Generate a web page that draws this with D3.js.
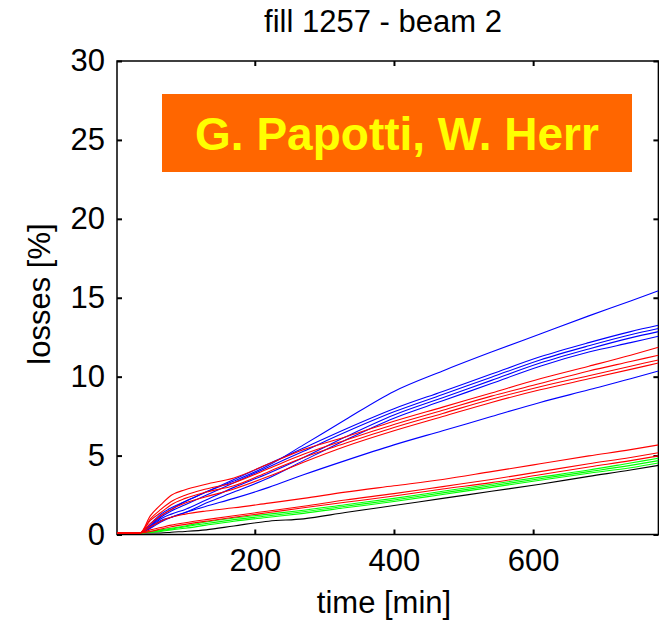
<!DOCTYPE html>
<html>
<head>
<meta charset="utf-8">
<script src="https://cdn.jsdelivr.net/npm/d3@7"></script>
<style>
  html, body { margin: 0; padding: 0; background: #fff; }
  svg { display: block; font-family: "Liberation Sans", Arial, sans-serif; }
  .tick-label { font-size: 31px; fill: #000; }
  .axis-title { font-size: 31px; fill: #000; }
  .loss-line { fill: none; stroke-width: 1.1; stroke-linejoin: round; }
</style>
</head>
<body>
<div id="chart"></div>
<script>
'use strict';

// ------------------------------------------
// Data: losses in % vs time in min
// ------------------------------------------
const TIMES = [0, 35, 50, 65, 80, 100, 130, 170, 220, 270, 330, 400, 470, 540, 610, 680, 740, 780];

const BLUE_LOSSES = [
  [0, 0, 0.6, 1.2, 1.6, 2.0, 2.6, 3.3, 4.3, 5.6, 7.2, 9.0, 10.3, 11.5, 12.65, 13.8, 14.75, 15.4],
  [0, 0, 0.5, 1.1, 1.5, 2.0, 2.6, 3.4, 4.4, 5.4, 6.6, 7.9, 9.0, 10.1, 11.2, 12.1, 12.8, 13.2],
  [0, 0, 0.45, 1.0, 1.4, 1.8, 2.4, 3.2, 4.2, 5.2, 6.4, 7.7, 8.8, 9.9, 11.0, 11.9, 12.6, 13.0],
  [0, 0, 0.4, 0.9, 1.2, 1.5, 2.1, 2.9, 3.8, 4.8, 6.1, 7.5, 8.6, 9.7, 10.8, 11.7, 12.4, 12.8],
  [0, 0, 0.35, 0.8, 1.0, 1.3, 1.9, 2.6, 3.5, 4.6, 5.9, 7.3, 8.4, 9.5, 10.6, 11.5, 12.1, 12.5],
  [0, 0, 0.3, 0.7, 1.0, 1.3, 1.7, 2.2, 2.9, 3.7, 4.6, 5.6, 6.5, 7.4, 8.3, 9.1, 9.8, 10.3]
];

const RED_LOSSES = [
  [0, 0, 1.1, 1.8, 2.4, 2.75, 3.1, 3.5, 4.4, 5.3, 6.1, 7.1, 8.0, 8.9, 9.8, 10.6, 11.3, 11.8],
  [0, 0, 0.9, 1.5, 2.0, 2.4, 2.8, 3.2, 4.1, 5.0, 5.9, 6.9, 7.8, 8.7, 9.5, 10.3, 10.9, 11.3],
  [0, 0, 0.8, 1.3, 1.8, 2.2, 2.6, 3.0, 3.9, 4.8, 5.7, 6.7, 7.6, 8.5, 9.3, 10.0, 10.6, 11.0],
  [0, 0, 0.6, 1.1, 1.5, 1.9, 2.3, 2.8, 3.6, 4.5, 5.5, 6.5, 7.4, 8.3, 9.1, 9.8, 10.4, 10.8],
  [0, 0, 0.4, 0.75, 1.0, 1.2, 1.4, 1.6, 1.9, 2.2, 2.6, 3.0, 3.4, 3.9, 4.4, 4.9, 5.3, 5.6],
  [0, 0, 0.2, 0.35, 0.5, 0.65, 0.85, 1.1, 1.4, 1.7, 2.1, 2.5, 2.95, 3.4, 3.9, 4.4, 4.8, 5.1],
  [0, 0, 0.1, 0.25, 0.4, 0.55, 0.75, 1.0, 1.3, 1.6, 1.95, 2.35, 2.8, 3.2, 3.7, 4.2, 4.6, 4.9]
];

const GREEN_LOSSES = [
  [0, 0, 0.1, 0.2, 0.3, 0.45, 0.7, 0.95, 1.2, 1.45, 1.8, 2.2, 2.65, 3.1, 3.55, 4.0, 4.45, 4.75],
  [0, 0, 0.05, 0.15, 0.25, 0.4, 0.6, 0.85, 1.1, 1.35, 1.7, 2.1, 2.55, 3.0, 3.45, 3.9, 4.3, 4.6],
  [0, 0, 0.05, 0.1, 0.2, 0.3, 0.5, 0.75, 1.0, 1.25, 1.6, 2.0, 2.45, 2.9, 3.35, 3.8, 4.15, 4.45]
];

const BLACK_LOSSES = [
  [0, 0, 0, 0, 0.05, 0.1, 0.2, 0.45, 0.75, 0.9, 1.3, 1.75, 2.2, 2.65, 3.1, 3.6, 4.0, 4.3]
];

const X_TICKS = [200, 400, 600];
const Y_TICKS = [0, 5, 10, 15, 20, 25, 30];

const TITLE = 'fill 1257 - beam 2';
const X_LABEL = 'time [min]';
const Y_LABEL = 'losses [%]';
const STAMP = 'G. Papotti, W. Herr';

(function () {
  const width = 659;
  const height = 622;
  const plot = { left: 117, right: 658.4, top: 61, bottom: 534.5 };

  const svg = d3.select('#chart')
    .append('svg')
    .attr('width', width)
    .attr('height', height);

  const x = d3.scaleLinear().domain([2, 780]).range([plot.left, plot.right]);
  const y = d3.scaleLinear().domain([0, 30]).range([plot.bottom - 1.5, plot.top]);

  // clip a little below the axis so the flat zero part stays visible
  svg.append('defs').append('clipPath')
    .attr('id', 'plot-clip')
    .append('rect')
    .attr('x', plot.left)
    .attr('y', plot.top)
    .attr('width', plot.right - plot.left)
    .attr('height', plot.bottom - plot.top + 1);

  // ------------------------------------------
  // Axes box (MATLAB style, ticks inside on all sides)
  // ------------------------------------------
  const tickLen = 5;

  svg.append('rect')
    .attr('x', plot.left)
    .attr('y', plot.top)
    .attr('width', plot.right - plot.left)
    .attr('height', plot.bottom - plot.top)
    .attr('fill', 'none')
    .attr('stroke', '#000')
    .attr('stroke-width', 1.5);

  svg.append('g')
    .attr('transform', `translate(0,${plot.bottom})`)
    .call(d3.axisBottom(x).tickValues(X_TICKS).tickSizeInner(-tickLen).tickSizeOuter(0).tickPadding(14))
    .call(g => g.select('.domain').remove())
    .call(g => g.selectAll('line').attr('stroke', '#000').attr('stroke-width', 2))
    .call(g => g.selectAll('text').attr('class', 'tick-label').attr('font-size', null).attr('font-family', null).attr('dy', '0.71em'));

  svg.append('g')
    .attr('transform', `translate(0,${plot.top})`)
    .call(d3.axisTop(x).tickValues(X_TICKS).tickSizeInner(-tickLen).tickSizeOuter(0).tickFormat(''))
    .call(g => g.select('.domain').remove())
    .call(g => g.selectAll('line').attr('stroke', '#000').attr('stroke-width', 2));

  const yTick = d3.scaleLinear().domain([0, 30]).range([plot.bottom, plot.top]);

  svg.append('g')
    .attr('transform', `translate(${plot.left},0)`)
    .call(d3.axisLeft(yTick).tickValues(Y_TICKS).tickSizeInner(-tickLen).tickSizeOuter(0).tickPadding(12))
    .call(g => g.select('.domain').remove())
    .call(g => g.selectAll('line').attr('stroke', '#000').attr('stroke-width', 2))
    .call(g => g.selectAll('text').attr('class', 'tick-label').attr('font-size', null).attr('font-family', null));

  svg.append('g')
    .attr('transform', `translate(${plot.right},0)`)
    .call(d3.axisRight(yTick).tickValues(Y_TICKS).tickSizeInner(-tickLen).tickSizeOuter(0).tickFormat(''))
    .call(g => g.select('.domain').remove())
    .call(g => g.selectAll('line').attr('stroke', '#000').attr('stroke-width', 2));

  // ------------------------------------------
  // Curves
  // ------------------------------------------
  const line = d3.line()
    .curve(d3.curveMonotoneX)
    .x((d, i) => x(TIMES[i]))
    .y(d => y(d));

  const groups = [
    { color: '#0000ff', rows: BLUE_LOSSES },
    { color: '#000000', rows: BLACK_LOSSES },
    { color: '#00ff00', rows: GREEN_LOSSES },
    { color: '#ff0000', rows: RED_LOSSES }
  ];

  const gLines = svg.append('g').attr('clip-path', 'url(#plot-clip)');
  groups.forEach(grp => {
    gLines.append('g')
      .selectAll('path')
      .data(grp.rows)
      .join('path')
      .attr('class', 'loss-line')
      .attr('stroke', grp.color)
      .attr('d', line);
  });

  // ------------------------------------------
  // Texts
  // ------------------------------------------
  svg.append('text')
    .attr('class', 'axis-title')
    .attr('x', 383)
    .attr('y', 32)
    .attr('text-anchor', 'middle')
    .text(TITLE);

  svg.append('text')
    .attr('class', 'axis-title')
    .attr('x', 384)
    .attr('y', 613)
    .attr('text-anchor', 'middle')
    .text(X_LABEL);

  svg.append('text')
    .attr('class', 'axis-title')
    .attr('transform', 'translate(50,294) rotate(-90)')
    .attr('text-anchor', 'middle')
    .text(Y_LABEL);

  // orange name stamp
  svg.append('rect')
    .attr('x', 162)
    .attr('y', 94)
    .attr('width', 470)
    .attr('height', 78)
    .attr('fill', '#ff6600');

  svg.append('text')
    .attr('x', 397)
    .attr('y', 150)
    .attr('text-anchor', 'middle')
    .attr('font-size', 46)
    .attr('font-weight', 'bold')
    .attr('fill', '#ffff00')
    .text(STAMP);
})();
</script>
</body>
</html>
